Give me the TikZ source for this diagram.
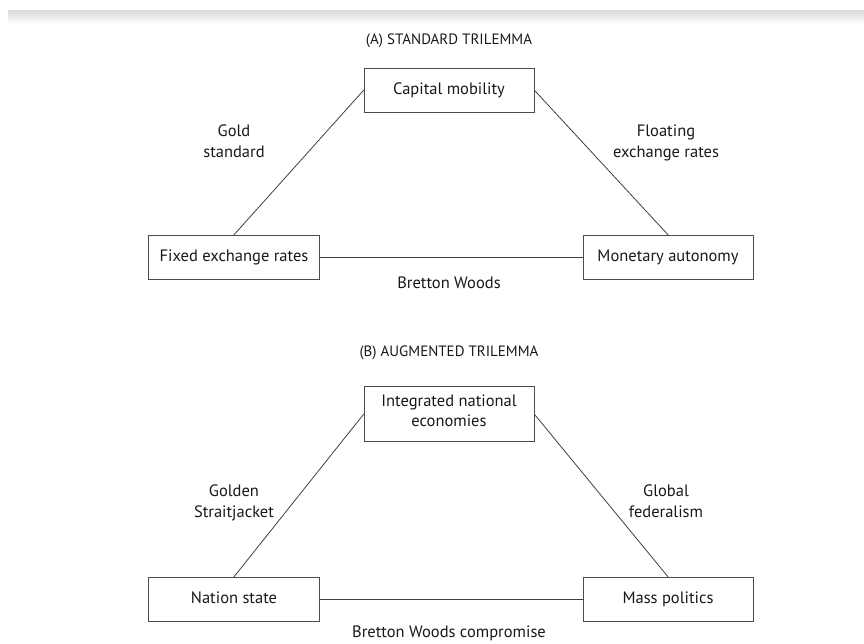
\documentclass[tikz,border=0pt]{standalone}
\usepackage{fontspec}
\setmainfont{PT Sans}
\usetikzlibrary{positioning}

\tikzset{
    corner/.style={draw=black!70, fill=white, text=black!90, align=center,
        minimum width=170pt, minimum height=44pt, inner sep=2pt,
        font=\fontsize{16.5}{20}\selectfont,
        execute at begin node=\strut, execute at end node=\strut},
    edgelabel/.style={text=black!90, align=center,
        font=\fontsize{16.5}{21}\selectfont,
        execute at begin node=\strut, execute at end node=\strut},
    heading/.style={text=black!90, font=\fontsize{15}{18}\selectfont},
    link/.style={draw=black!75, line width=0.8pt}
}

\begin{document}
\begin{tikzpicture}[x=1pt,y=-1pt]
    \useasboundingbox (0,0) rectangle (864,643);
    % Top shadow of the page
    \shade[top color=black!15, bottom color=white] (8,10) rectangle (864,24);

    % (A) Standard trilemma
    \node[heading] (titleA) at (449,41) {(A) STANDARD TRILEMMA};
    \node[corner] (capital) at (449,90) {Capital mobility};
    \node[corner, minimum width=171pt] (fixed) at (234,257) {Fixed exchange rates};
    \node[corner] (monetary) at (668,257) {Monetary autonomy};
    % Draw lines
    \draw[link] (capital.west) -- (fixed.north);
    \draw[link] (capital.east) -- (monetary.north);
    \draw[link] (fixed.east) -- (monetary.west);
    \node[edgelabel] (gold) at (234,144) {Gold\\standard};
    \node[edgelabel] (floating) at (666,144) {Floating\\exchange rates};
    \node[edgelabel] (bretton) at (449,284) {Bretton Woods};

    % (B) Augmented trilemma
    \node[heading] (titleB) at (449,353) {(B) AUGMENTED TRILEMMA};
    \node[corner, minimum height=55pt] (integrated) at (449,414)
        {Integrated national\\economies};
    \node[corner, minimum width=171pt] (nation) at (234,599) {Nation state};
    \node[corner] (mass) at (668,599) {Mass politics};
    % Draw lines
    \draw[link] (integrated.west) -- (nation.north);
    \draw[link] (integrated.east) -- (mass.north);
    \draw[link] (nation.east) -- (mass.west);
    \node[edgelabel] (golden) at (234,504) {Golden\\Straitjacket};
    \node[edgelabel] (global) at (666,504) {Global\\federalism};
    \node[edgelabel] (compromise) at (449,633) {Bretton Woods compromise};
\end{tikzpicture}
\end{document}
